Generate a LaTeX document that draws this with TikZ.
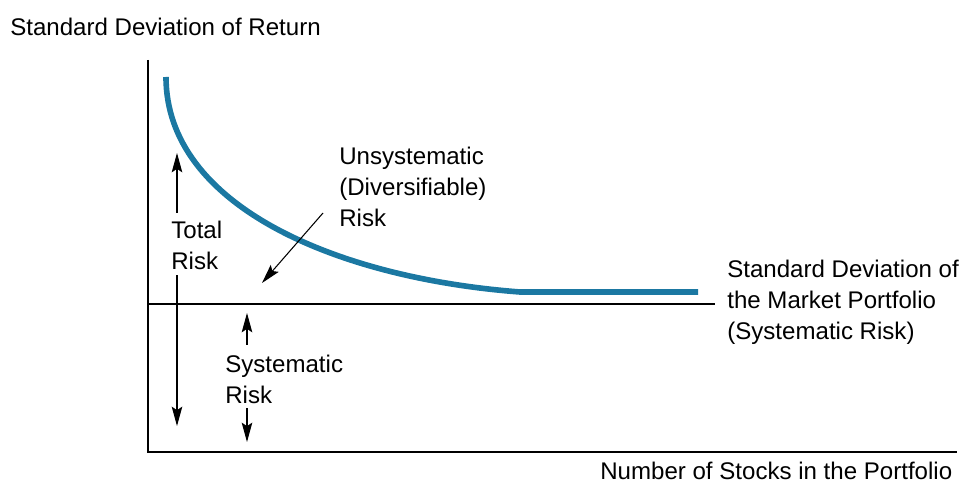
\documentclass[tikz,border=0pt]{standalone}
\usepackage{fontspec}
\setmainfont{Liberation Sans}
\usetikzlibrary{arrows.meta}
\definecolor{riskblue}{RGB}{27,120,162}
\tikzset{lbl/.style={font=\fontsize{13.7}{17.6}\selectfont,inner sep=0pt,align=left},
  arr/.style={line width=0.6pt,-{Stealth[length=11pt,width=6pt,inset=2pt]}}}
\begin{document}
\begin{tikzpicture}[x=0.02cm,y=-0.02cm]
    \useasboundingbox(0,0)rectangle(965,493);
    \draw[line width=0.8pt](148,60)--(148,452)--(957,452);
    \draw[line width=0.8pt](148,304)--(715,304);
    \draw[riskblue,line width=3.2pt](166,77)..controls(166,205)and(335,278)..(520,292)--(698,292);
    \node[lbl,anchor=base west](ylab)at(10,36){Standard Deviation of Return};
    \node[lbl,anchor=base west](xlab)at(600,480){Number of Stocks in the Portfolio};
    \node[lbl,anchor=north west](mkt)at(727,260){Standard Deviation of\\the Market Portfolio\\(Systematic Risk)};
    \node[lbl,anchor=north west](unsys)at(339,147){Unsystematic\\(Diversifiable)\\Risk};
    \node[lbl,anchor=north west](tot)at(171,221){Total\\Risk};
    \node[lbl,anchor=north west](sys)at(225,355){Systematic\\Risk};
    \coordinate(totup)at(177,153);\coordinate(totdn)at(177,426);
    \coordinate(sysup)at(247,313);\coordinate(sysdn)at(247,442);
    \draw[arr](tot.north-|totup)++(0,-8)--(totup);
    \draw[arr](tot.south-|totdn)++(0,5)--(totdn);
    \draw[arr](sys.north-|sysup)++(0,-10)--(sysup);
    \draw[arr](sys.south-|sysdn)++(0,4)--(sysdn);
    \draw[arr](323,213)--(262,283);
\end{tikzpicture}
\end{document}
